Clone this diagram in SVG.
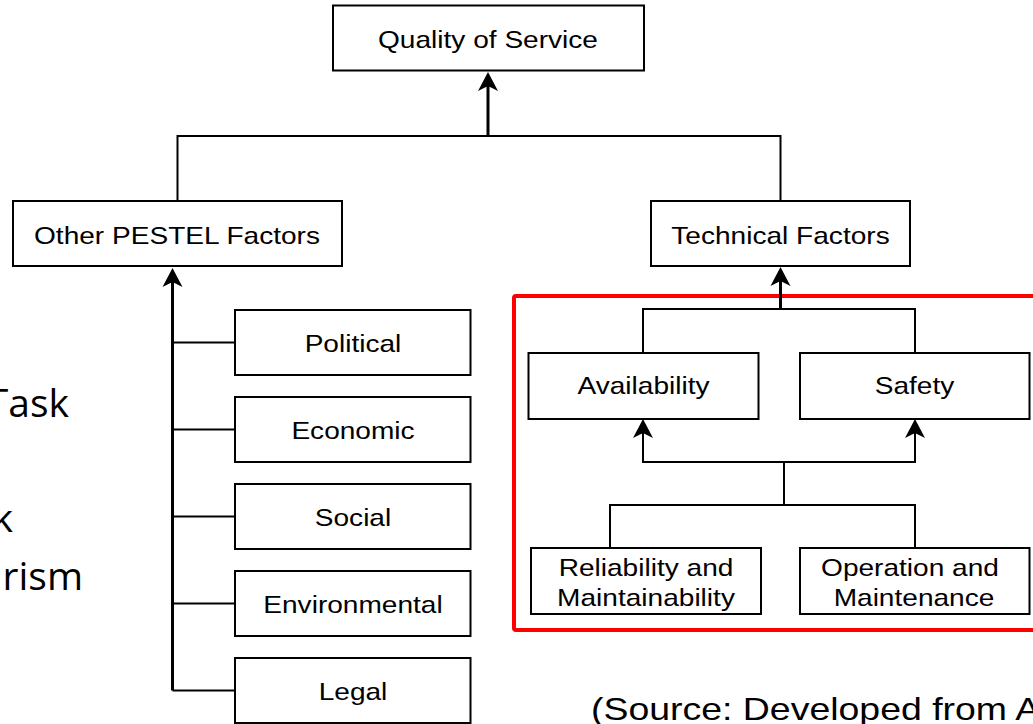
<svg xmlns="http://www.w3.org/2000/svg" width="1033" height="724" viewBox="0 0 1033 724">
  <style>
    .box { fill: #ffffff; stroke: #000000; stroke-width: 2; }
    .lbl { font-family: "Liberation Sans", Arial, sans-serif; font-size: 24px; fill: #000000; text-anchor: middle; }
    .edge { fill: none; stroke: #000000; stroke-width: 2; }
    .trunk { fill: none; stroke: #000000; stroke-width: 3; }
    .side { font-family: "Open Sans", "Noto Sans", sans-serif; font-size: 39px; fill: #000000; text-anchor: end; }
    .note { font-family: "Liberation Sans", Arial, sans-serif; font-size: 32px; fill: #000000; }
    .focus { fill: none; stroke: #ff0000; stroke-width: 4; }
  </style>
  <defs>
    <marker id="arrow" markerUnits="userSpaceOnUse" markerWidth="24" markerHeight="24" viewBox="-12 -12 24 24" refX="0" refY="0" orient="auto" overflow="visible">
      <path d="M 9 0 L -10 -10 L -5 0 L -10 10 Z" fill="#000000"/>
    </marker>
  </defs>

  <rect width="1033" height="724" fill="#ffffff"/>

  <!-- slide text running in from the left margin -->
  <g id="side-text">
    <text class="side" x="69" y="417">Task</text>
    <text class="side" x="13" y="532">k</text>
    <text class="side" x="83" y="590">rism</text>
  </g>

  <!-- highlight around the technical sub-tree -->
  <rect id="technical-highlight" class="focus" x="514" y="296" width="560" height="334" rx="2"/>

  <g id="connectors">
    <!-- top level -->
    <path class="edge" d="M177.5 201 V136 H780.5 V201"/>
    <path class="trunk" d="M488 136 V81" marker-end="url(#arrow)"/>
    <!-- PESTEL trunk and branches -->
    <path class="trunk" d="M172.5 690.5 V277" marker-end="url(#arrow)"/>
    <path class="edge" d="M172.5 342.5 H235"/>
    <path class="edge" d="M172.5 429.5 H235"/>
    <path class="edge" d="M172.5 516.5 H235"/>
    <path class="edge" d="M172.5 603.5 H235"/>
    <path class="edge" d="M172.5 690.5 H235"/>
    <!-- technical sub-tree -->
    <path class="trunk" d="M780.5 309 V276" marker-end="url(#arrow)"/>
    <path class="edge" d="M643 353 V309 H915 V353"/>
    <path class="edge" d="M784 462 H643 V428" marker-end="url(#arrow)"/>
    <path class="edge" d="M784 462 H915 V428" marker-end="url(#arrow)"/>
    <path class="edge" d="M784 462 V505"/>
    <path class="edge" d="M610 548 V505 H915 V548"/>
  </g>

  <g id="quality-of-service">
    <rect class="box" x="333" y="5.5" width="311" height="65"/>
    <text class="lbl" transform="translate(488,47.5) scale(1.17,1)">Quality of Service</text>
  </g>

  <g id="other-pestel-factors">
    <rect class="box" x="13" y="201" width="329" height="65"/>
    <text class="lbl" transform="translate(177,244) scale(1.17,1)">Other PESTEL Factors</text>
  </g>

  <g id="technical-factors">
    <rect class="box" x="651" y="201" width="259" height="65"/>
    <text class="lbl" transform="translate(780.5,243.5) scale(1.17,1)">Technical Factors</text>
  </g>

  <g id="political">
    <rect class="box" x="235" y="310" width="235.5" height="65"/>
    <text class="lbl" transform="translate(353,351.5) scale(1.17,1)">Political</text>
  </g>
  <g id="economic">
    <rect class="box" x="235" y="397" width="235.5" height="65"/>
    <text class="lbl" transform="translate(353,438.5) scale(1.17,1)">Economic</text>
  </g>
  <g id="social">
    <rect class="box" x="235" y="484" width="235.5" height="65"/>
    <text class="lbl" transform="translate(353,525.5) scale(1.17,1)">Social</text>
  </g>
  <g id="environmental">
    <rect class="box" x="235" y="571" width="235.5" height="65"/>
    <text class="lbl" transform="translate(353,612.5) scale(1.17,1)">Environmental</text>
  </g>
  <g id="legal">
    <rect class="box" x="235" y="658" width="235.5" height="65"/>
    <text class="lbl" transform="translate(353,699.5) scale(1.17,1)">Legal</text>
  </g>

  <g id="availability">
    <rect class="box" x="528.5" y="353" width="230" height="66"/>
    <text class="lbl" transform="translate(643.5,394) scale(1.17,1)">Availability</text>
  </g>
  <g id="safety">
    <rect class="box" x="800" y="353" width="229.5" height="66"/>
    <text class="lbl" transform="translate(914.5,394) scale(1.17,1)">Safety</text>
  </g>

  <g id="reliability-maintainability">
    <rect class="box" x="531" y="548" width="230" height="66"/>
    <text class="lbl" transform="translate(646,576) scale(1.17,1)">Reliability and</text>
    <text class="lbl" transform="translate(646,605.5) scale(1.17,1)">Maintainability</text>
  </g>
  <g id="operation-maintenance">
    <rect class="box" x="800" y="548" width="229.5" height="66"/>
    <text class="lbl" transform="translate(910,576) scale(1.17,1)">Operation and</text>
    <text class="lbl" transform="translate(914,605.5) scale(1.17,1)">Maintenance</text>
  </g>

  <text id="source-note" class="note" transform="translate(591,720) scale(1.17,1)">(Source: Developed from A</text>
</svg>
